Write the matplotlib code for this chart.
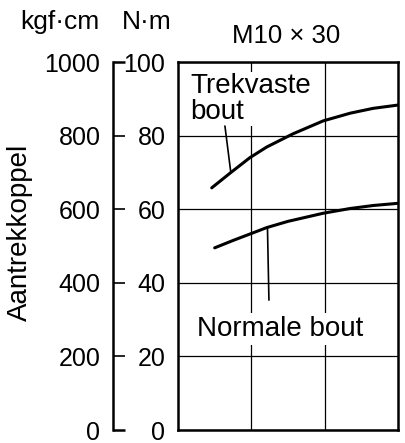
import matplotlib.pyplot as plt

plt.rcParams['font.family'] = ['Liberation Sans', 'DejaVu Sans']

# data (N·m), x is an arbitrary 0..3 scale with no ticks
x_trek = [0.46, 0.71, 0.98, 1.21, 1.57, 1.98, 2.35, 2.66, 3.0]
y_trek = [65.8, 69.8, 74.0, 76.9, 80.5, 84.0, 86.1, 87.4, 88.3]
x_norm = [0.5, 0.75, 1.0, 1.21, 1.5, 1.98, 2.35, 2.66, 3.0]
y_norm = [49.5, 51.5, 53.4, 55.0, 56.7, 58.9, 60.2, 61.0, 61.6]

nm_ticks = [0, 20, 40, 60, 80, 100]
kgf_ticks = [0, 200, 400, 600, 800, 1000]

W, H = 406, 443
fig = plt.figure(figsize=(W / 100, H / 100), dpi=100)

def px_axes(left, top, right, bottom):
    return [left / W, 1 - bottom / H, (right - left) / W, (bottom - top) / H]

LW = 1.8
FS = 18

ax = fig.add_axes(px_axes(178, 62, 398, 430))
ax.set_xlim(0, 3)
ax.set_ylim(0, 100)
ax.set_xticks([1, 2])
ax.set_yticks(nm_ticks)
ax.set_yticklabels([str(v) for v in nm_ticks], fontsize=FS)
ax.tick_params(axis='x', length=0, labelbottom=False)
ax.tick_params(axis='y', length=0, pad=9)
ax.grid(True, color='black', linewidth=0.9)
ax.set_axisbelow(True)
for s in ax.spines.values():
    s.set_linewidth(LW)

ax.plot(x_trek, y_trek, color='black', lw=2.2, solid_capstyle='round', zorder=4)
ax.plot(x_norm, y_norm, color='black', lw=2.2, solid_capstyle='round', zorder=4)

ax.text(0.17, 97.0, 'Trekvaste\nbout', fontsize=20, va='top', ha='left',
        linespacing=1.0, zorder=3,
        bbox=dict(facecolor='white', edgecolor='none', pad=1))
ax.annotate('', xy=(0.72, 70.0), xytext=(0.64, 82.6),
            arrowprops=dict(arrowstyle='-', lw=1.2, color='black', shrinkA=0, shrinkB=0))

ax.text(0.26, 27.4, 'Normale bout', fontsize=20, va='center', ha='left', zorder=3,
        bbox=dict(facecolor='white', edgecolor='none', pad=2))
ax.annotate('', xy=(1.22, 55.0), xytext=(1.24, 35.3),
            arrowprops=dict(arrowstyle='-', lw=1.2, color='black', shrinkA=0, shrinkB=0))

# kgf·cm axis
ax2 = fig.add_axes(px_axes(113, 62, 130, 430))
ax2.set_ylim(0, 1000)
ax2.set_xticks([])
ax2.set_yticks(kgf_ticks)
ax2.set_yticklabels([str(v) for v in kgf_ticks], fontsize=FS)
ax2.patch.set_visible(False)
for name in ['top', 'right', 'bottom']:
    ax2.spines[name].set_visible(False)
ax2.spines['left'].set_linewidth(LW)
ax2.tick_params(axis='y', direction='in', length=8.5, width=1.2, pad=9)
ticks = ax2.yaxis.get_major_ticks()
ticks[0].tick1line.set_markeredgewidth(LW)
ticks[-1].tick1line.set_markeredgewidth(LW)

fig.text(60 / W, 1 - 22 / H, 'kgf·cm', fontsize=19, ha='center', va='center')
fig.text(147 / W, 1 - 22 / H, 'N·m', fontsize=19, ha='center', va='center')
fig.text(286 / W, 1 - 36 / H, 'M10 × 30', fontsize=18.5, ha='center', va='center')
fig.text(20 / W, 1 - 232 / H, 'Aantrekkoppel', fontsize=20, rotation=90,
         ha='center', va='center')

fig.savefig('out.png', dpi=100)
